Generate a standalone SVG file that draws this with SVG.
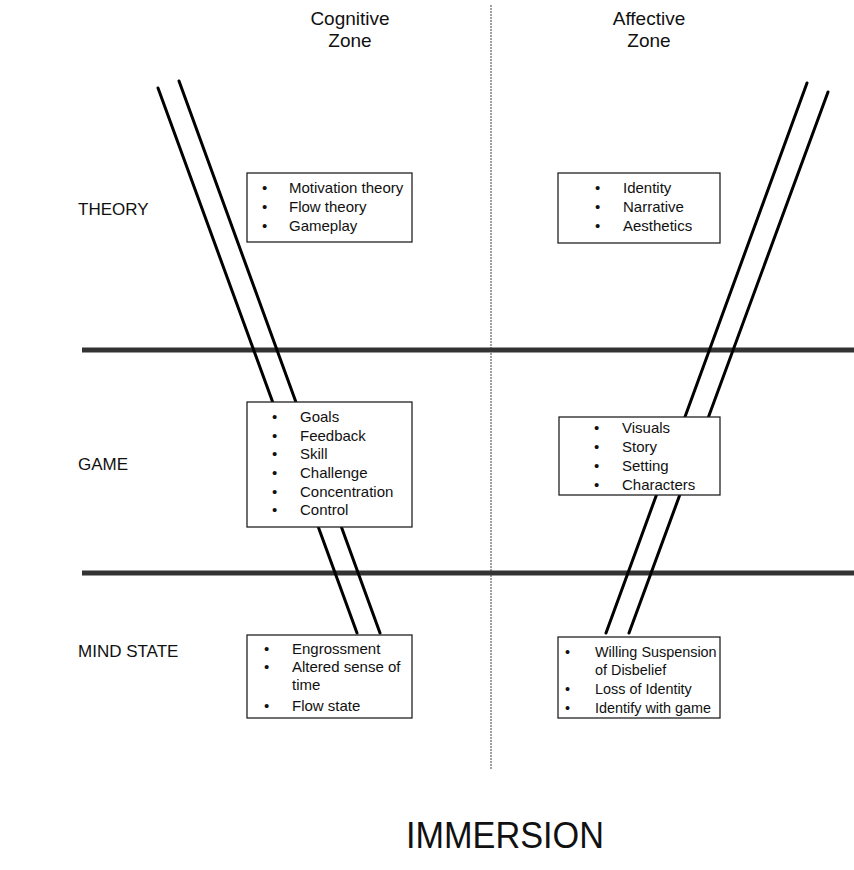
<svg xmlns="http://www.w3.org/2000/svg" width="854" height="870" viewBox="0 0 854 870">
<style>
.t{font-family:"Liberation Sans",Arial,sans-serif;fill:#111}
.b{font-size:15px}
.s{font-size:14.4px}
.h{font-size:19px;text-anchor:middle}
.r{font-size:17px}
.box{fill:#fff;stroke:#222;stroke-width:1.3}
.diag{stroke:#000;stroke-width:3;stroke-linecap:round;fill:none}
.hz{stroke:#333;stroke-width:5}
</style>
<rect width="854" height="870" fill="#fff"/>
<g id="connectors">
<line x1="491" y1="5" x2="491" y2="770" stroke="#a0a0a0" stroke-width="2" stroke-dasharray="2 1"/>
<line class="hz" x1="82" y1="350" x2="854" y2="350"/>
<line class="hz" x1="82" y1="573" x2="854" y2="573"/>
<line class="diag" x1="158" y1="88" x2="357" y2="633"/>
<line class="diag" x1="179" y1="81" x2="380" y2="633"/>
<line class="diag" x1="807" y1="83" x2="606" y2="633"/>
<line class="diag" x1="828" y1="92" x2="629" y2="633"/>
</g>
<g id="headers" class="t h">
<text x="350" y="25">Cognitive</text>
<text x="350" y="47">Zone</text>
<text x="649" y="25">Affective</text>
<text x="649" y="47">Zone</text>
</g>
<g id="rows" class="t r">
<text x="78" y="215">THEORY</text>
<text x="78" y="470">GAME</text>
<text x="78" y="657">MIND STATE</text>
</g>
<g id="cog-theory">
<rect class="box" x="247" y="173" width="165" height="69"/>
<g class="t b"><text x="262" y="193">•</text><text x="289" y="193">Motivation theory</text>
<text x="262" y="212">•</text><text x="289" y="212">Flow theory</text>
<text x="262" y="231">•</text><text x="289" y="231">Gameplay</text></g>
</g>
<g id="aff-theory">
<rect class="box" x="558" y="173" width="162" height="70"/>
<g class="t b"><text x="595" y="193">•</text><text x="623" y="193">Identity</text>
<text x="595" y="212">•</text><text x="623" y="212">Narrative</text>
<text x="595" y="231">•</text><text x="623" y="231">Aesthetics</text></g>
</g>
<g id="cog-game">
<rect class="box" x="247" y="402" width="165" height="125"/>
<g class="t b"><text x="272" y="422">•</text><text x="300" y="422">Goals</text>
<text x="272" y="441">•</text><text x="300" y="441">Feedback</text>
<text x="272" y="459">•</text><text x="300" y="459">Skill</text>
<text x="272" y="478">•</text><text x="300" y="478">Challenge</text>
<text x="272" y="497">•</text><text x="300" y="497">Concentration</text>
<text x="272" y="515">•</text><text x="300" y="515">Control</text></g>
</g>
<g id="aff-game">
<rect class="box" x="559" y="417" width="161" height="78"/>
<g class="t b"><text x="594" y="433">•</text><text x="622" y="433">Visuals</text>
<text x="594" y="452">•</text><text x="622" y="452">Story</text>
<text x="594" y="471">•</text><text x="622" y="471">Setting</text>
<text x="594" y="490">•</text><text x="622" y="490">Characters</text></g>
</g>
<g id="cog-mind">
<rect class="box" x="247" y="635" width="165" height="83"/>
<g class="t b"><text x="264" y="654">•</text><text x="292" y="654">Engrossment</text>
<text x="264" y="672">•</text><text x="292" y="672">Altered sense of</text>
<text x="292" y="690">time</text>
<text x="264" y="711">•</text><text x="292" y="711">Flow state</text></g>
</g>
<g id="aff-mind">
<rect class="box" x="558" y="637" width="162" height="81"/>
<g class="t s"><text x="565" y="657">•</text><text x="595" y="657">Willing Suspension</text>
<text x="595" y="675">of Disbelief</text>
<text x="565" y="694">•</text><text x="595" y="694">Loss of Identity</text>
<text x="565" y="713">•</text><text x="595" y="713">Identify with game</text></g>
</g>
<g id="title">
<text class="t" x="406" y="848" font-size="36" textLength="198" lengthAdjust="spacingAndGlyphs">IMMERSION</text>
</g>
</svg>
